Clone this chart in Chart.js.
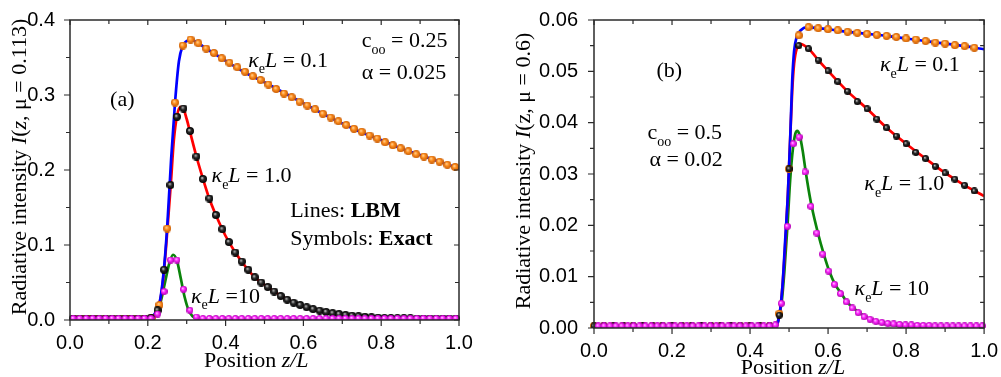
<!DOCTYPE html>
<html>
<head>
<meta charset="utf-8">
<script src="https://cdn.jsdelivr.net/npm/chart.js@4.4.0/dist/chart.umd.min.js"></script>
<style>
  html, body { margin: 0; padding: 0; background: #fff; }
  #wrap { position: relative; width: 1001px; height: 377px; overflow: hidden; }
  canvas { position: absolute; top: 0; }
  #chartA { left: 0; }
  #chartB { left: 490px; }
</style>
</head>
<body>
<div id="wrap">
  <canvas id="chartA" width="480" height="377"></canvas>
  <canvas id="chartB" width="511" height="377"></canvas>
</div>
<script>
// ---------- panel (a): mu = 0.113 ----------
// LBM lines
var a01LineZ = [0, 0.205, 0.21, 0.22, 0.23, 0.24, 0.25, 0.26, 0.27, 0.28, 0.29, 0.30, 0.31, 0.33, 0.35, 0.39, 0.45, 0.50, 0.55, 0.60, 0.65, 0.70, 0.75, 0.80, 0.85, 0.90, 0.95, 1.0];
var a01LineI = [0, 0, 0.003, 0.01, 0.022, 0.06, 0.125, 0.215, 0.29, 0.345, 0.366, 0.372, 0.374, 0.369, 0.362, 0.349, 0.330, 0.317, 0.303, 0.289, 0.275, 0.262, 0.250, 0.240, 0.229, 0.220, 0.211, 0.202];
var a1LineZ = [0, 0.205, 0.215, 0.225, 0.235, 0.242, 0.25, 0.259, 0.267, 0.275, 0.283, 0.29, 0.30, 0.308, 0.325, 0.342, 0.358, 0.375, 0.40, 0.425, 0.45, 0.475, 0.50, 0.55, 0.60, 0.65, 0.70, 0.75, 0.80, 0.90, 1.0];
var a1LineI = [0, 0, 0.004, 0.013, 0.035, 0.067, 0.118, 0.18, 0.24, 0.272, 0.284, 0.283, 0.268, 0.252, 0.218, 0.188, 0.162, 0.14, 0.112, 0.09, 0.072, 0.057, 0.047, 0.030, 0.018, 0.0115, 0.007, 0.0045, 0.0027, 0.0011, 0.0006];
var a10LineZ = [0, 0.205, 0.215, 0.225, 0.235, 0.245, 0.255, 0.265, 0.275, 0.285, 0.295, 0.305, 0.315, 0.33, 0.35, 1.0];
var a10LineI = [0, 0, 0.003, 0.01, 0.028, 0.052, 0.075, 0.087, 0.079, 0.055, 0.03, 0.013, 0.005, 0.001, 0, 0];

// exact solution symbols
var a01Sym = [0.002, 0.002, 0.002, 0.002, 0.002, 0.002, 0.002, 0.002, 0.002, 0.002,
  0.003, 0.020, 0.122, 0.290, 0.366, 0.374, 0.369, 0.362, 0.356, 0.349,
  0.343, 0.337, 0.331, 0.325, 0.320, 0.314, 0.308, 0.302, 0.297, 0.291,
  0.286, 0.281, 0.275, 0.270, 0.265, 0.260, 0.255, 0.251, 0.246, 0.242,
  0.237, 0.233, 0.229, 0.225, 0.221, 0.218, 0.214, 0.211, 0.207, 0.204];
var a1Sym = [0.002, 0.002, 0.002, 0.002, 0.002, 0.002, 0.002, 0.002, 0.002, 0.002,
  0.002, 0.002, 0.003, 0.013, 0.067, 0.18, 0.271, 0.282, 0.252, 0.218,
  0.188, 0.162, 0.14, 0.121, 0.104, 0.09, 0.078, 0.067, 0.057, 0.05,
  0.044, 0.038, 0.032, 0.027, 0.023, 0.02, 0.017, 0.0145, 0.0125, 0.0107,
  0.0092, 0.0079, 0.0068, 0.0058, 0.005, 0.0043, 0.0037, 0.0032, 0.0027, 0.0025,
  0.0023, 0.0022, 0.0021, 0.002, 0.002, 0.002, 0.002, 0.002, 0.002, 0.002];
var a10Sym = [0.002, 0.002, 0.002, 0.002, 0.002, 0.002, 0.002, 0.002, 0.002, 0.002,
  0.002, 0.002, 0.002, 0.008, 0.038, 0.08, 0.08, 0.041, 0.013, 0.004,
  0.002, 0.002, 0.002, 0.002, 0.002, 0.002, 0.002, 0.002, 0.002, 0.002,
  0.002, 0.002, 0.002, 0.002, 0.002, 0.002, 0.002, 0.002, 0.002, 0.002,
  0.002, 0.002, 0.002, 0.002, 0.002, 0.002, 0.002, 0.002, 0.002, 0.002,
  0.002, 0.002, 0.002, 0.002, 0.002, 0.002, 0.002, 0.002, 0.002, 0.002];

// ---------- panel (b): mu = 0.6 ----------
var b01LineZ = [0, 0.465, 0.47, 0.476, 0.483, 0.49, 0.497, 0.503, 0.508, 0.513, 0.52, 0.53, 0.545, 0.56, 0.60, 0.65, 0.70, 0.75, 0.80, 0.85, 0.90, 0.95, 1.0];
var b01LineI = [0, 0, 0.0008, 0.0028, 0.008, 0.017, 0.026, 0.037, 0.048, 0.054, 0.0568, 0.058, 0.0586, 0.0585, 0.0582, 0.0577, 0.0573, 0.0569, 0.0564, 0.0559, 0.0554, 0.0549, 0.0543];
var b1LineZ = [0, 0.465, 0.47, 0.476, 0.483, 0.49, 0.497, 0.503, 0.508, 0.513, 0.52, 0.53, 0.55, 0.575, 0.60, 0.65, 0.70, 0.75, 0.80, 0.85, 0.90, 0.95, 1.0];
var b1LineI = [0, 0, 0.0008, 0.0028, 0.008, 0.016, 0.026, 0.037, 0.046, 0.0515, 0.0545, 0.0553, 0.0544, 0.0522, 0.0501, 0.0461, 0.0427, 0.039, 0.0359, 0.033, 0.0302, 0.0278, 0.0257];
var b10LineZ = [0, 0.465, 0.47, 0.476, 0.481, 0.488, 0.496, 0.503, 0.51, 0.516, 0.521, 0.527, 0.535, 0.542, 0.55, 0.558, 0.574, 0.589, 0.603, 0.618, 0.634, 0.648, 0.665, 0.68, 0.70, 0.73, 0.76, 0.80, 0.90, 1.0];
var b10LineI = [0, 0, 0.0008, 0.003, 0.005, 0.011, 0.02, 0.029, 0.035, 0.0378, 0.0384, 0.0376, 0.0345, 0.0308, 0.027, 0.0237, 0.0185, 0.0144, 0.0111, 0.0085, 0.0067, 0.0051, 0.0039, 0.003, 0.002, 0.0011, 0.0006, 0.0003, 0.0001, 0];

var b01Sym = [0.0004, 0.0004, 0.0004, 0.0004, 0.0004, 0.0004, 0.0004, 0.0004, 0.0004, 0.0004,
  0.0004, 0.0004, 0.0004, 0.0004, 0.0004, 0.0004, 0.0004, 0.0004, 0.0004, 0.0028,
  0.031, 0.057, 0.0586, 0.0584, 0.0582, 0.058, 0.0577, 0.0575, 0.0573, 0.0571,
  0.0569, 0.0567, 0.0564, 0.0562, 0.0559, 0.0556, 0.0554, 0.0551, 0.0549, 0.0546];
var b1Sym = [0.0004, 0.0004, 0.0004, 0.0004, 0.0004, 0.0004, 0.0004, 0.0004, 0.0004, 0.0004,
  0.0004, 0.0004, 0.0004, 0.0004, 0.0004, 0.0004, 0.0004, 0.0004, 0.0004, 0.0025,
  0.031, 0.055, 0.0544, 0.0522, 0.0501, 0.048, 0.0461, 0.0441, 0.0427, 0.0407,
  0.039, 0.0374, 0.0359, 0.0342, 0.033, 0.0315, 0.0302, 0.029, 0.0278, 0.0267];
var b10Sym = [0.0004, 0.0004, 0.0004, 0.0004, 0.0004, 0.0004, 0.0004, 0.0004, 0.0004, 0.0004,
  0.0004, 0.0004, 0.0004, 0.0004, 0.0004, 0.0004, 0.0004, 0.0004, 0.0004, 0.0004,
  0.0004, 0.0004, 0.0004, 0.0004, 0.0004, 0.0004, 0.0004, 0.0004, 0.0004, 0.0004,
  0.0006, 0.0048, 0.0198, 0.0359, 0.0372, 0.0304, 0.0237, 0.0185, 0.0144, 0.0111,
  0.0085, 0.0067, 0.0051, 0.0039, 0.003, 0.0022, 0.0017, 0.0013, 0.0011, 0.0009,
  0.0008, 0.0007, 0.0006, 0.0006, 0.0005, 0.0005, 0.0005, 0.0004, 0.0004, 0.0004,
  0.0004, 0.0004, 0.0004, 0.0004, 0.0004, 0.0004];

// sample positions of the exact solution
function grid(n, first, step) {
  var out = [];
  for (var k = 0; k < n; k++) out.push(+(first + k * step).toFixed(5));
  return out;
}
var zA50 = grid(50, 0.01, 0.02);
var zA60 = grid(60, 1 / 120, 1 / 60);
var zB40 = grid(40, 0, 0.025);
var zB66 = grid(66, 0.7 / 66, 1 / 66);

var xTicks = [0, 0.2, 0.4, 0.6, 0.8, 1.0];

var BLUE = '#0000ff', RED = '#ff0000', GREEN = '#0b840b';
var SERIF = '"Liberation Serif", "Times New Roman", serif';
var SANS = '"Liberation Sans", Arial, sans-serif';

function pairs(xs, ys) {
  return xs.map(function (x, i) { return { x: x, y: ys[i] }; });
}

// shaded ball used as point style
function ball(light, base, dark, d) {
  var c = document.createElement('canvas');
  c.width = c.height = d;
  var g = c.getContext('2d');
  var r = d / 2;
  var grad = g.createRadialGradient(r * 0.75, r * 0.7, 0, r, r, r);
  grad.addColorStop(0, light);
  grad.addColorStop(0.45, base);
  grad.addColorStop(1, dark);
  g.fillStyle = grad;
  g.beginPath();
  g.arc(r, r, r, 0, Math.PI * 2);
  g.fill();
  return c;
}
var orangeBall = ball('#ffe2b0', '#ff8f1f', '#c85a00', 8);
var blackBall = ball('#e0e0e0', '#2a2a2a', '#000000', 8);
var magentaBall = ball('#ffe0ff', '#ff2bff', '#b000b0', 7);
var orangeBallB = ball('#ffe2b0', '#ff8f1f', '#c85a00', 8);
var blackBallB = ball('#e0e0e0', '#2a2a2a', '#000000', 7);
var magentaBallB = ball('#ffe0ff', '#ff2bff', '#b000b0', 7);

function lineSet(xs, ys, color) {
  return {
    data: pairs(xs, ys), showLine: true, borderColor: color, borderWidth: 2.7,
    pointRadius: 0, cubicInterpolationMode: 'monotone', fill: false, order: 10
  };
}
function symbolSet(xs, ys, img, order) {
  return {
    data: pairs(xs, ys), showLine: false, pointStyle: img, pointRadius: 4,
    order: order, clip: { left: 6, right: 6, top: 6, bottom: 0 }
  };
}

function fontFor(style, size) {
  if (style === 'i') return 'italic ' + size + 'px ' + SERIF;
  if (style === 'b') return 'bold ' + size + 'px ' + SERIF;
  if (style === 'sub') return Math.round(size * 0.62) + 'px ' + SERIF;
  return size + 'px ' + SERIF;
}
function drawRich(ctx, parts, x, y, size, align, rotated) {
  ctx.save();
  ctx.translate(x, y);
  if (rotated) ctx.rotate(-Math.PI / 2);
  ctx.textAlign = 'left';
  ctx.textBaseline = 'alphabetic';
  ctx.fillStyle = '#000';
  var w = 0;
  parts.forEach(function (p) { ctx.font = fontFor(p[1], size); w += ctx.measureText(p[0]).width; });
  var cx = align === 'center' ? -w / 2 : 0;
  parts.forEach(function (p) {
    ctx.font = fontFor(p[1], size);
    ctx.fillText(p[0], cx, p[1] === 'sub' ? size * 0.3 : 0);
    cx += ctx.measureText(p[0]).width;
  });
  ctx.restore();
}

// box, tick marks, axis titles and in-plot labels
var decoPlugin = {
  id: 'deco',
  afterDatasetsDraw: function (chart, args, o) {
    var ctx = chart.ctx, a = chart.chartArea, xs = chart.scales.x, ys = chart.scales.y;
    ctx.save();
    ctx.strokeStyle = '#2b2b2b';
    ctx.lineWidth = 1.5;
    ctx.strokeRect(a.left, a.top, a.right - a.left, a.bottom - a.top);
    ctx.lineWidth = 1.2;
    ctx.beginPath();
    var nx = Math.round((xs.max - xs.min) / o.xMinor);
    for (var k = 0; k <= nx; k++) {
      var px = xs.getPixelForValue(xs.min + k * o.xMinor);
      var major = k % 2 === 0;
      ctx.moveTo(px, a.bottom); ctx.lineTo(px, a.bottom + (major ? 6 : 4));
      ctx.moveTo(px, a.top); ctx.lineTo(px, a.top + (major ? 5 : 4));
    }
    var ny = Math.round((ys.max - ys.min) / o.yMinor);
    for (var j = 0; j <= ny; j++) {
      var py = ys.getPixelForValue(ys.min + j * o.yMinor);
      var majorY = j % 2 === 0;
      ctx.moveTo(a.left, py); ctx.lineTo(a.left - (majorY ? 6 : 4), py);
      ctx.moveTo(a.right, py); ctx.lineTo(a.right - (majorY ? 5 : 4), py);
    }
    ctx.stroke();
    ctx.restore();

    drawRich(ctx, o.yTitle, o.yTitleX, (a.top + a.bottom) / 2 + o.yTitleShift, 22, 'center', true);
    drawRich(ctx, [['Position ', 'r'], ['z/L', 'i']], xs.getPixelForValue(o.xTitleZ), o.xTitleY, 22, 'center', false);
    o.notes.forEach(function (n) {
      drawRich(ctx, n.parts, xs.getPixelForValue(n.z), ys.getPixelForValue(n.I), 22, 'left', false);
    });
  }
};

function kappa(rest) {
  return [['\u03ba', 'i'], ['e', 'sub'], ['L', 'i'], [rest, 'r']];
}

function makeChart(id, datasets, yMax, yStep, yDigits, box, deco) {
  var ctx = document.getElementById(id).getContext('2d');
  return new Chart(ctx, {
    type: 'scatter',
    data: { datasets: datasets },
    options: {
      responsive: false,
      animation: false,
      events: [],
      layout: { padding: { left: 0, top: box.top, right: box.right, bottom: 0 } },
      plugins: { legend: { display: false }, tooltip: { enabled: false }, deco: deco },
      scales: {
        x: {
          type: 'linear', min: 0, max: 1,
          afterBuildTicks: function (s) { s.ticks = xTicks.map(function (v) { return { value: v }; }); },
          afterFit: function (s) { s.height = box.xHeight; },
          grid: { display: false },
          border: { display: false },
          ticks: { font: { family: SANS, size: 20 }, color: '#000', padding: box.xPad, maxRotation: 0,
                    callback: function (v) { return v.toFixed(1); } }
        },
        y: {
          type: 'linear', min: 0, max: yMax,
          ticks: { stepSize: yStep, font: { family: SANS, size: 20 }, color: '#000', padding: box.yPad,
                   callback: function (v) { return v.toFixed(yDigits); } },
          afterFit: function (s) { s.width = box.yWidth; },
          grid: { display: false },
          border: { display: false }
        }
      }
    },
    plugins: [decoPlugin]
  });
}

makeChart('chartA', [
  lineSet(a01LineZ, a01LineI, BLUE),
  lineSet(a1LineZ, a1LineI, RED),
  lineSet(a10LineZ, a10LineI, GREEN),
  symbolSet(zA50, a01Sym, orangeBall, 3),
  symbolSet(zA60, a1Sym, blackBall, 2),
  symbolSet(zA60, a10Sym, magentaBall, 1)
], 0.4, 0.1, 1,
  { top: 20, right: 21, yWidth: 70, xHeight: 57, xPad: 3, yPad: 7 },
  {
    xMinor: 0.1, yMinor: 0.05,
    yTitle: [['Radiative intensity ', 'r'], ['I', 'i'], ['(', 'r'], ['z', 'i'], [', \u03bc = 0.113)', 'r']],
    yTitleX: 26, yTitleShift: -3, xTitleZ: 0.479, xTitleY: 367,
    notes: [
      { z: 0.103, I: 0.285, parts: [['(a)', 'r']] },
      { z: 0.75, I: 0.364, parts: [['c', 'r'], ['oo', 'sub'], [' = 0.25', 'r']] },
      { z: 0.75, I: 0.321, parts: [['\u03b1 = 0.025', 'r']] },
      { z: 0.458, I: 0.338, parts: kappa(' = 0.1') },
      { z: 0.364, I: 0.184, parts: kappa(' = 1.0') },
      { z: 0.566, I: 0.138, parts: [['Lines: ', 'r'], ['LBM', 'b']] },
      { z: 0.566, I: 0.100, parts: [['Symbols: ', 'r'], ['Exact', 'b']] },
      { z: 0.311, I: 0.023, parts: kappa(' =10') }
    ]
  });

makeChart('chartB', [
  lineSet(b01LineZ, b01LineI, BLUE),
  lineSet(b1LineZ, b1LineI, RED),
  lineSet(b10LineZ, b10LineI, GREEN),
  symbolSet(zB40, b01Sym, orangeBallB, 3),
  symbolSet(zB40, b1Sym, blackBallB, 2),
  symbolSet(zB66, b10Sym, magentaBallB, 1)
], 0.06, 0.01, 2,
  { top: 19, right: 14, yWidth: 104, xHeight: 49, xPad: 3, yPad: 8 },
  {
    xMinor: 0.1, yMinor: 0.005,
    yTitle: [['Radiative intensity ', 'r'], ['I', 'i'], ['(z, \u03bc = 0.6)', 'r']],
    yTitleX: 40, yTitleShift: -3, xTitleZ: 0.51, xTitleY: 374,
    notes: [
      { z: 0.16, I: 0.0489, parts: [['(b)', 'r']] },
      { z: 0.137, I: 0.0368, parts: [['c', 'r'], ['oo', 'sub'], [' = 0.5', 'r']] },
      { z: 0.142, I: 0.0315, parts: [['\u03b1 = 0.02', 'r']] },
      { z: 0.733, I: 0.050, parts: kappa(' = 0.1') },
      { z: 0.693, I: 0.0268, parts: kappa(' = 1.0') },
      { z: 0.668, I: 0.0064, parts: kappa(' = 10') }
    ]
  });
</script>
</body>
</html>
